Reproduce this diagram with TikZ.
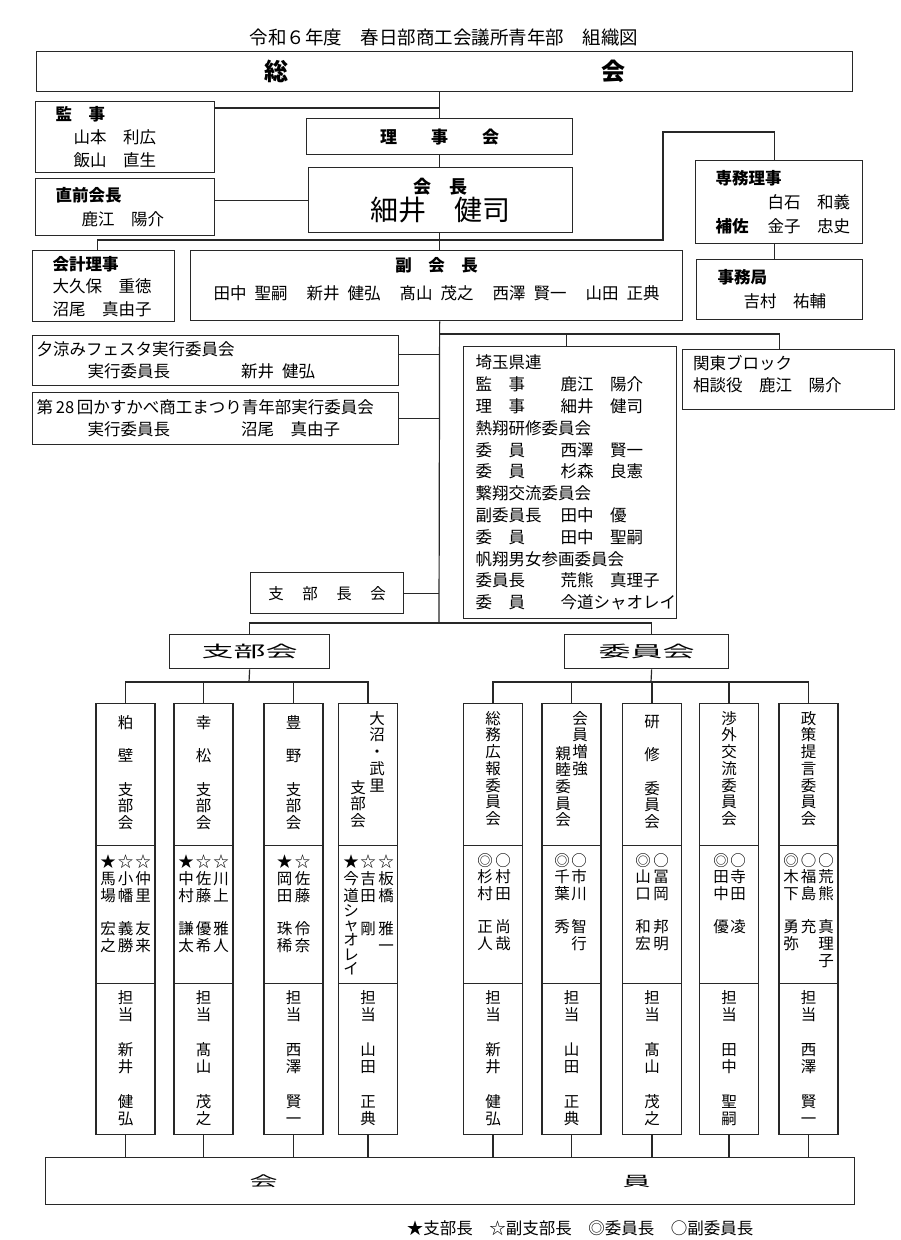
\documentclass[tikz,border=0pt]{standalone}
\usepackage{fontspec}
\setmainfont{Noto Sans CJK JP}
\newfontfamily\widefont[FakeStretch=2]{Noto Sans CJK JP}
\usetikzlibrary{positioning,calc}
\definecolor{LineGray}{RGB}{40,40,40}
\newcommand\kcol[1]{\makebox[85pt][l]{#1}}
\tikzset{
  box/.style={draw=LineGray,line width=1.3pt,fill=white,inner sep=0pt,anchor=north west},
  infobox/.style={box,align=left,font=\fontsize{16.5}{23}\selectfont},
  midbox/.style={box,align=center,font=\fontsize{16.5}{28}\selectfont},
  colbox/.style={draw=LineGray,line width=1.3pt,fill=white,inner sep=0pt,
    minimum width=59pt,anchor=north},
  tate/.style={font=\fontsize{15.5}{16.7}\selectfont,align=center,inner sep=0pt,anchor=north},
  tanto/.style={tate,font=\fontsize{15.5}{17.3}\selectfont},
  link/.style={draw=LineGray,line width=1.2pt}
}

\begin{document}
\begin{tikzpicture}[x=1pt,y=-1pt]
\useasboundingbox (0,0) rectangle (900,1240);

\node[font=\fontsize{18.5}{20}\selectfont] (title) at (444,38)
  {令和６年度　春日部商工会議所青年部　組織図};
\node[box,minimum width=816pt,minimum height=40pt,font=\fontsize{24}{24}\selectfont\bfseries]
  (soukai) at (36,51) {総\hspace{313pt}会};

% upper part
\node[infobox,minimum width=179pt,minimum height=71pt,text width=139pt] (kansa) at (35,101)
  {\textbf{監　事}\\\hspace*{18pt}山本　利広\\\hspace*{18pt}飯山　直生};
\node[midbox,minimum width=266pt,minimum height=36pt,font=\fontsize{17}{20}\selectfont\bfseries]
  (rijikai) at (306,118) {理　　事　　会};
\node[infobox,minimum width=179pt,minimum height=57pt,text width=139pt,
  font=\fontsize{16.5}{24}\selectfont] (zenkaicho) at (35,178)
  {\textbf{直前会長}\\\hspace*{26pt}鹿江　陽介};
\node[midbox,minimum width=264pt,minimum height=65pt,font=\fontsize{18}{27}\selectfont]
  (kaicho) at (308,167) {\textbf{会　長}\\{\fontsize{28}{28}\selectfont 細井　健司}};
\node[infobox,minimum width=142pt,minimum height=71pt,text width=102pt,
  font=\fontsize{16.5}{22.5}\selectfont] (kaikei) at (32,250)
  {\textbf{会計理事}\\大久保　重徳\\沼尾　真由子};
\node[midbox,minimum width=492pt,minimum height=70pt,text depth=14pt] (fukukaicho) at (190,250)
  {\textbf{副　会　長}\\田中\hspace{8pt}聖嗣\hspace{19pt}新井\hspace{8pt}健弘\hspace{19pt}髙山\hspace{8pt}茂之\hspace{19pt}西澤\hspace{8pt}賢一\hspace{19pt}山田\hspace{8pt}正典};
\node[infobox,minimum width=167pt,minimum height=83pt,text width=127pt,
  font=\fontsize{16.5}{24}\selectfont] (senmu) at (695,160)
  {\textbf{専務理事}\\\hspace*{52pt}白石　和義\\\mbox{\textbf{補佐}\hspace{19pt}金子　忠史}};
\node[infobox,minimum width=166pt,minimum height=60pt,text width=124pt,
  font=\fontsize{16.5}{24}\selectfont] (jimukyoku) at (696,259)
  {\textbf{事務局}\\\hspace*{26pt}吉村　祐輔};

% middle part
\node[infobox,minimum width=366pt,minimum height=50pt,text width=358pt,
  font=\fontsize{16.5}{22}\selectfont] (yusuzumi) at (32,335)
  {夕涼みフェスタ実行委員会\\\hspace*{51pt}実行委員長\hspace{71pt}新井\hspace{8pt}健弘};
\node[infobox,minimum width=366pt,minimum height=52pt,text width=358pt,
  font=\fontsize{16.5}{22}\selectfont] (matsuri) at (32,392)
  {第\,28\,回かすかべ商工まつり青年部実行委員会\\\hspace*{51pt}実行委員長\hspace{71pt}沼尾　真由子};
\node[infobox,minimum width=213pt,minimum height=272pt,text width=189pt,
  font=\fontsize{16.5}{21.8}\selectfont] (saitama) at (463,346)
  {埼玉県連\\\kcol{監　事}鹿江　陽介\\\kcol{理　事}細井　健司\\熱翔研修委員会\\
   \kcol{委　員}西澤　賢一\\\kcol{委　員}杉森　良憲\\繋翔交流委員会\\
   \kcol{副委員長}田中　優\\\kcol{委　員}田中　聖嗣\\帆翔男女参画委員会\\
   \kcol{委員長}荒熊　真理子\\\kcol{委　員}今道シャオレイ};
\node[box,minimum width=212pt,minimum height=60pt] (kanto) at (682,349) {};
\node[anchor=north west,align=left,inner sep=0pt,font=\fontsize{16.5}{22}\selectfont]
  (kanto-txt) at ([xshift=11pt,yshift=-6pt]kanto.north west) {関東ブロック\\相談役　鹿江　陽介};
\node[box,minimum width=153pt,minimum height=41pt,font=\fontsize{15.5}{16}\selectfont]
  (shibuchokai) at (250,572) {支\hspace{18.5pt}部\hspace{18.5pt}長\hspace{18.5pt}会};
\node[box,minimum width=160pt,minimum height=34pt,font=\widefont\fontsize{16}{16}\selectfont]
  (shibukai) at (169,634) {支部会};
\node[box,minimum width=164pt,minimum height=34pt,font=\widefont\fontsize{16}{16}\selectfont]
  (iinkai) at (564,634) {委員会};

% branch and committee columns
\foreach \id/\x in {kasukabe/125.5,kojimatsu/203.5,toyono/293.5,onuma/368,
    soumu/493,zokyo/571.5,kenshu/652,shogai/729,seisaku/808.5}{
  \node[colbox,minimum height=142pt] (\id) at (\x,703) {};
  \node[colbox,minimum height=138pt] (\id-m) at (\x,845) {};
  \node[colbox,minimum height=151pt] (\id-t) at (\x,983) {};
}

\node[tate] (kasukabe-n) at ([yshift=-12pt]kasukabe.north) {粕\\[16.7pt]壁\\[16.7pt]支\\部\\会};
\node[tate] (kojimatsu-n) at ([yshift=-12pt]kojimatsu.north) {幸\\[16.7pt]松\\[16.7pt]支\\部\\会};
\node[tate] (toyono-n) at ([yshift=-12pt]toyono.north) {豊\\[16.7pt]野\\[16.7pt]支\\部\\会};
\node[tate] (onuma-n1) at ([xshift=9pt,yshift=-8pt]onuma.north) {大\\沼\\・\\武\\里};
\node[tate] (onuma-n2) at ([xshift=-10pt,yshift=-77pt]onuma.north) {支\\部\\会};
\node[tate] (soumu-n) at ([yshift=-8pt]soumu.north) {総\\務\\広\\報\\委\\員\\会};
\node[tate] (zokyo-n1) at ([xshift=8.5pt,yshift=-8pt]zokyo.north) {会\\員\\増\\強};
\node[tate] (zokyo-n2) at ([xshift=-8.5pt,yshift=-43pt]zokyo.north) {親\\睦\\委\\員\\会};
\node[tate] (kenshu-n) at ([yshift=-12pt]kenshu.north) {研\\[16.7pt]修\\[16.7pt]委\\員\\会};
\node[tate] (shogai-n) at ([yshift=-8pt]shogai.north) {渉\\外\\交\\流\\委\\員\\会};
\node[tate] (seisaku-n) at ([yshift=-8pt]seisaku.north) {政\\策\\提\\言\\委\\員\\会};

\node[tate] (kasukabe-m1) at ([xshift=-17.5pt,yshift=-10pt]kasukabe-m.north) {★\\馬\\場\\[16.7pt]宏\\之};
\node[tate] (kasukabe-m2) at ([yshift=-10pt]kasukabe-m.north) {☆\\小\\幡\\[16.7pt]義\\勝};
\node[tate] (kasukabe-m3) at ([xshift=17.5pt,yshift=-10pt]kasukabe-m.north) {☆\\仲\\里\\[16.7pt]友\\来};
\node[tate] (kojimatsu-m1) at ([xshift=-17.5pt,yshift=-10pt]kojimatsu-m.north) {★\\中\\村\\[16.7pt]謙\\太};
\node[tate] (kojimatsu-m2) at ([yshift=-10pt]kojimatsu-m.north) {☆\\佐\\藤\\[16.7pt]優\\希};
\node[tate] (kojimatsu-m3) at ([xshift=17.5pt,yshift=-10pt]kojimatsu-m.north) {☆\\川\\上\\[16.7pt]雅\\人};
\node[tate] (toyono-m1) at ([xshift=-9pt,yshift=-10pt]toyono-m.north) {★\\岡\\田\\[16.7pt]珠\\稀};
\node[tate] (toyono-m2) at ([xshift=9pt,yshift=-10pt]toyono-m.north) {☆\\佐\\藤\\[16.7pt]伶\\奈};
\node[tate] (onuma-m1) at ([xshift=-17pt,yshift=-10pt]onuma-m.north)
  {★\\今\\道\\[-2pt]シ\\[-2pt]ャ\\[-2pt]オ\\[-2pt]レ\\[-2pt]イ};
\node[tate] (onuma-m2) at ([yshift=-10pt]onuma-m.north) {☆\\吉\\田\\[16.7pt]剛};
\node[tate] (onuma-m3) at ([xshift=18pt,yshift=-10pt]onuma-m.north) {☆\\板\\橋\\[16.7pt]雅\\一};
\node[tate] (soumu-m1) at ([xshift=-8pt,yshift=-8pt]soumu-m.north) {◎\\杉\\村\\[16.7pt]正\\人};
\node[tate] (soumu-m2) at ([xshift=10pt,yshift=-8pt]soumu-m.north) {○\\村\\田\\[16.7pt]尚\\哉};
\node[tate] (zokyo-m1) at ([xshift=-9.5pt,yshift=-8pt]zokyo-m.north) {◎\\千\\葉\\[16.7pt]秀};
\node[tate] (zokyo-m2) at ([xshift=7.5pt,yshift=-8pt]zokyo-m.north) {○\\市\\川\\[16.7pt]智\\行};
\node[tate] (kenshu-m1) at ([xshift=-9pt,yshift=-8pt]kenshu-m.north) {◎\\山\\口\\[16.7pt]和\\宏};
\node[tate] (kenshu-m2) at ([xshift=9pt,yshift=-8pt]kenshu-m.north) {○\\冨\\岡\\[16.7pt]邦\\明};
\node[tate] (shogai-m1) at ([xshift=-8pt,yshift=-8pt]shogai-m.north) {◎\\田\\中\\[16.7pt]優};
\node[tate] (shogai-m2) at ([xshift=9pt,yshift=-8pt]shogai-m.north) {○\\寺\\田\\[16.7pt]凌};
\node[tate] (seisaku-m1) at ([xshift=-17.5pt,yshift=-8pt]seisaku-m.north) {◎\\木\\下\\[16.7pt]勇\\弥};
\node[tate] (seisaku-m2) at ([yshift=-8pt]seisaku-m.north) {○\\福\\島\\[16.7pt]充};
\node[tate] (seisaku-m3) at ([xshift=17.5pt,yshift=-8pt]seisaku-m.north) {○\\荒\\熊\\[16.7pt]真\\理\\子};

\foreach \id/\a/\b/\c/\d in {kasukabe/新/井/健/弘,kojimatsu/髙/山/茂/之,toyono/西/澤/賢/一,
    onuma/山/田/正/典,soumu/新/井/健/弘,zokyo/山/田/正/典,kenshu/髙/山/茂/之,
    shogai/田/中/聖/嗣,seisaku/西/澤/賢/一}
  \node[tanto] (\id-tt) at ([yshift=-7pt]\id-t.north) {担\\当\\[17.3pt]\a\\\b\\[17.3pt]\c\\\d};

\node[box,minimum width=809pt,minimum height=47pt,font=\widefont\fontsize{14}{14}\selectfont]
  (kaiin) at (45,1157) {会\hspace{345pt}員};
\node[font=\fontsize{16.5}{18}\selectfont] (legend) at (580,1228)
  {★支部長　☆副支部長　◎委員長　○副委員長};

% connectors
\coordinate (spine) at (439,623);
\coordinate (kbus) at (439,334);
\coordinate (jrail) at (663,240);
\coordinate (jtop) at (663,132);
\coordinate (sbus) at (249,682);
\coordinate (ibus) at (651,682);

\draw[link] (soukai.south -| rijikai.north) -- (rijikai.north);
\draw[link] (rijikai.south) -- (rijikai.south |- kaicho.north);
\draw[link] (rijikai.south |- kaicho.south) -- (rijikai.south |- fukukaicho.north);
\draw[link] (rijikai.south |- fukukaicho.south) -- (spine);
\draw[link] ([yshift=-7pt]kansa.north east) -- ([yshift=-7pt]kansa.north east -| rijikai.north);
\draw[link] (zenkaicho.east |- kaicho.west) -- (kaicho.west);
\draw[link] ([xshift=-6pt]kaikei.north) |- (jrail) -- (jtop) -| ([xshift=-5pt]senmu.north);
\draw[link] ([xshift=-5pt]senmu.south) -- ([xshift=-5pt]senmu.south |- jimukyoku.north);
\draw[link] (kbus) -| ([xshift=-9pt]kanto.north);
\draw[link] ([xshift=-4pt]saitama.north) -- ([xshift=-4pt]saitama.north |- kbus);
\draw[link] ([yshift=6pt]yusuzumi.east) -- ([yshift=6pt]yusuzumi.east -| kbus);
\draw[link] (matsuri.east) -- (matsuri.east -| kbus);
\draw[link] (shibuchokai.east) -- (shibuchokai.east -| kbus);
\draw[link] (spine) -| (shibukai.north);
\draw[link] (spine) -| ([xshift=5pt]iinkai.north);
\draw[link] (shibukai.south) -- (sbus);
\draw[link] ([xshift=5pt]iinkai.south) -- (ibus);
\foreach \b in {kasukabe,kojimatsu,toyono,onuma}
  \draw[link] (sbus) -| (\b.north);
\foreach \b in {soumu,zokyo,kenshu,shogai,seisaku}
  \draw[link] (ibus) -| (\b.north);
\foreach \b in {kasukabe,kojimatsu,toyono,onuma,soumu,zokyo,kenshu,shogai,seisaku}
  \draw[link] (\b-t.south) -- (\b-t.south |- kaiin.north);
\end{tikzpicture}
\end{document}
